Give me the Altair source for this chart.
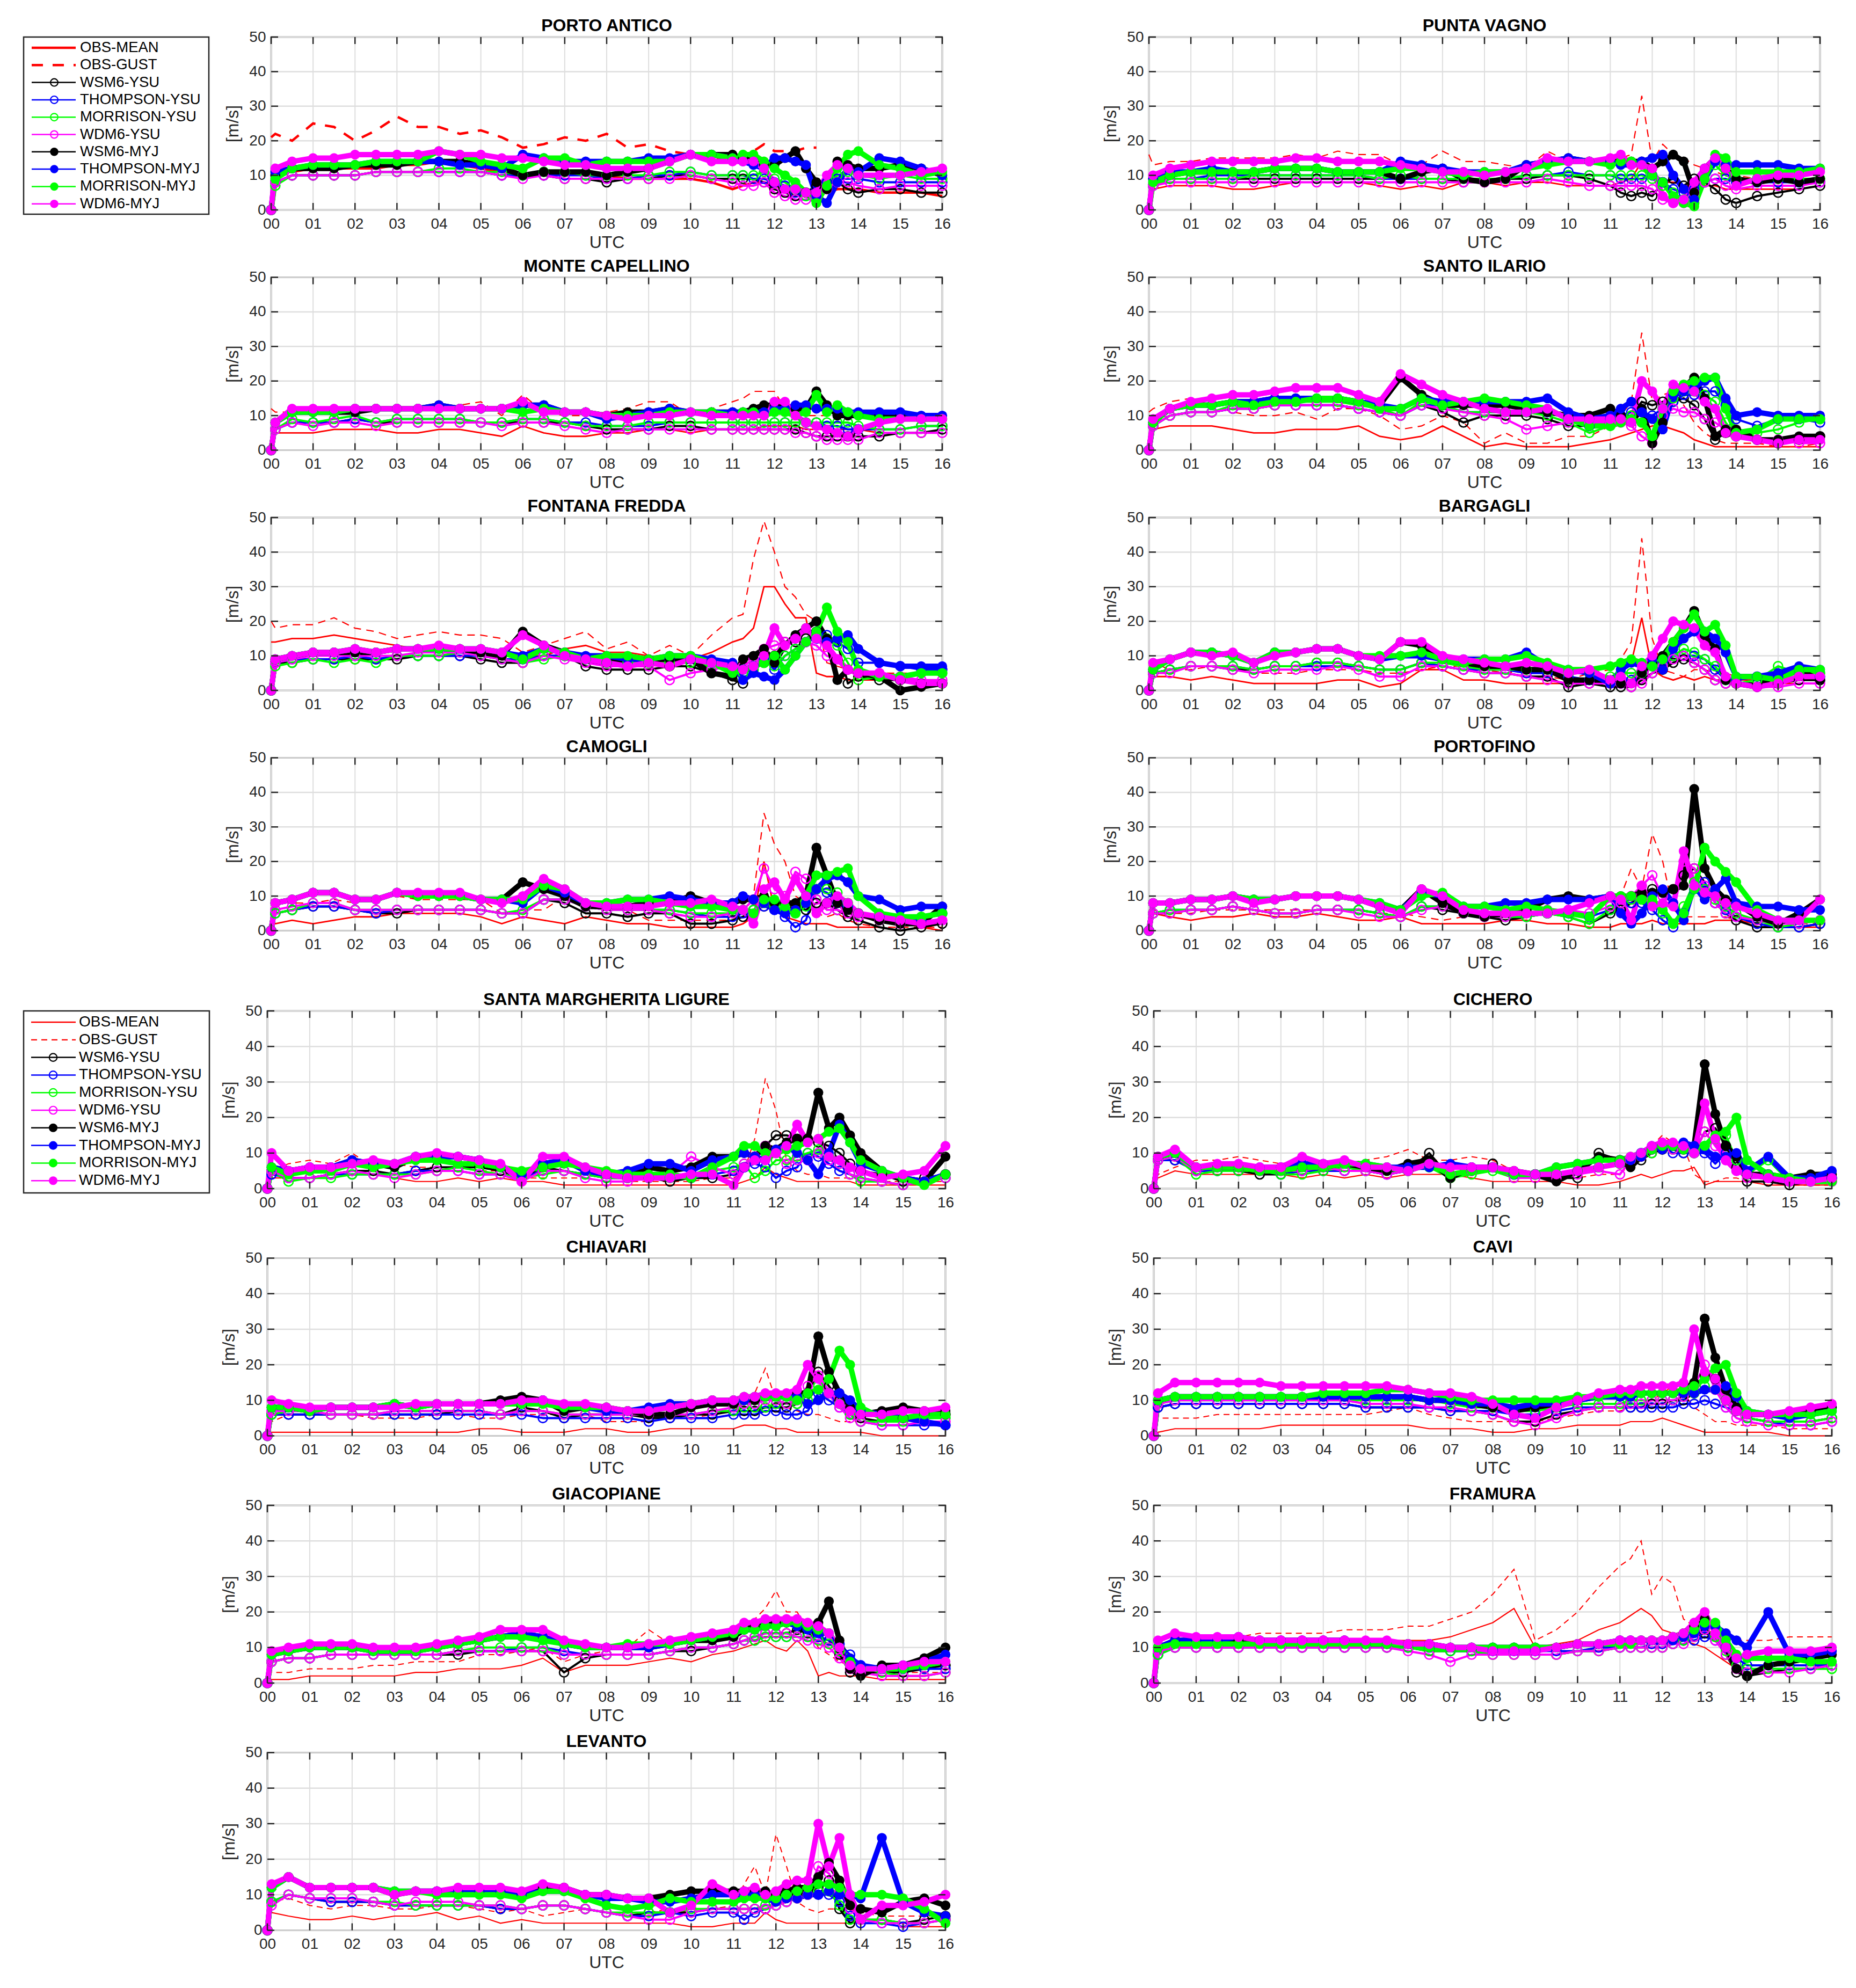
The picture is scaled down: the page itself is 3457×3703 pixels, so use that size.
import altair as alt
import pandas as pd

N = None
FONT = "Liberation Sans"
INK = "#262626"
GRID = "#dedede"
RED = "#ff0000"

TIMES = [0, 0.1,  0.5, 1, 1.5, 2, 2.5, 3, 3.5, 4, 4.5, 5,  5.5, 6, 6.5, 7, 7.5, 8, 8.5, 9, 9.5, 10,  10.5, 11,
         11.25, 11.5, 11.75, 12, 12.25, 12.5, 12.75, 13, 13.25, 13.5, 13.75, 14,  14.5, 15, 15.5, 16]
HOURS = list(range(17))
Y_TICKS = [0, 10, 20, 30, 40, 50]
SERIES = ["OBS-MEAN", "OBS-GUST", "WSM6-YSU", "THOMPSON-YSU", "MORRISON-YSU", "WDM6-YSU",
          "WSM6-MYJ", "THOMPSON-MYJ", "MORRISON-MYJ", "WDM6-MYJ"]
COLORS = ["#ff0000", "#ff0000", "#000000", "#0000ff", "#00ff00", "#ff00ff",
          "#000000", "#0000ff", "#00ff00", "#ff00ff"]

# ---------------- PORTO ANTICO ----------------
PA_OBS_MEAN = [12, 11,  11, 12, 12, 12, 12, 13, 13, 14, 13, 12,  11, 10, 11, 11, 10, 10, 9, 9, 9, 9,  8, 6,  7, 8, 8, 7, 6, 6, 6, 5, 5, 6, 6, 6,  5, 5, 5, 4]
PA_OBS_GUST = [21, 22,  20, 25, 24, 20, 23, 27, 24, 24, 22, 23,  21, 18, 19, 21, 20, 22, 18, 19, 17, 16,  15, 14,  16, 17, 19, 17, 17, 17, 18, 18, N, N, N, N,  N, N, N, N]
PA_WSM6_YSU = [0, 8,  10, 10, 10, 10, 11, 11, 11, 11, 11, 11,  10, 10, 10, 9, 9, 8, 9, 9, 10, 10,  9, 9,  9, 9, 8, 6, 5, 4, 5, 7, 8, 8, 6, 5,  6, 6, 5, 5]
PA_THOMPSON_YSU = [0, 8,  10, 10, 10, 10, 11, 11, 11, 11, 11, 11,  10, 10, 10, 10, 10, 9, 9, 10, 10, 11,  10, 10,  10, 9, 9, 8, 7, 5, 4, 4, 8, 9, 9, 9,  8, 8, 8, 8]
PA_MORRISON_YSU = [0, 7,  10, 10, 10, 10, 11, 11, 11, 12, 12, 11,  11, 10, 11, 11, 10, 10, 10, 10, 11, 11,  10, 10,  10, 10, 11, 9, 8, 6, 4, 3, 6, 10, 11, 10,  9, 10, 9, 9]
PA_WDM6_YSU = [0, 8,  10, 10, 10, 10, 11, 11, 11, 11, 11, 11,  10, 9, 10, 9, 9, 9, 9, 9, 9, 10,  9, 8,  7, 7, 8, 5, 4, 3, 3, 4, 6, 8, 8, 7,  6, 7, 7, 7]
PA_WSM6_MYJ = [0, 10,  12, 12, 12, 13, 13, 13, 14, 14, 14, 13,  12, 10, 11, 11, 11, 10, 11, 12, 14, 16,  16, 16,  15, 14, 13, 13, 15, 17, 12, 8, 6, 14, 13, 12,  12, 13, 12, 10]
PA_THOMPSON_MYJ = [0, 11,  12, 13, 13, 13, 14, 14, 14, 14, 13, 13,  12, 16, 15, 14, 14, 14, 14, 15, 15, 16,  16, 15,  14, 13, 12, 15, 15, 14, 13, 4, 2, 8, 12, 11,  15, 14, 12, 10]
PA_MORRISON_MYJ = [0, 9,  12, 13, 13, 13, 14, 14, 14, 17, 16, 14,  13, 12, 15, 15, 13, 14, 14, 14, 14, 16,  16, 15,  16, 16, 14, 12, 10, 8, 5, 2, 7, 12, 16, 17,  13, 12, 10, 11]
PA_WDM6_MYJ = [0, 12,  14, 15, 15, 16, 16, 16, 16, 17, 16, 16,  15, 15, 14, 13, 13, 12, 12, 12, 14, 16,  14, 14,  14, 14, 12, 8, 6, 6, 5, 5, 10, 13, 12, 10,  10, 10, 11, 12]

# ---------------- PUNTA VAGNO ----------------
PV_OBS_MEAN = [7, 6,  7, 7, 7, 6, 6, 7, 8, 8, 8, 8,  7, 6, 7, 6, 8, 8, 7, 8, 8, 7,  7, 7,  8, 9, 14, 9, 8, 8, 7, 7, 7, 7, 6, 6,  6, 6, 6, 7]
PV_OBS_GUST = [16, 13,  14, 14, 15, 15, 15, 15, 16, 15, 17, 16,  16, 13, 13, 17, 14, 14, 13, 12, 17, 14,  15, 14,  15, 16, 33, 14, 19, 16, 15, 13, 12, 11, 10, 10,  9, 9, 9, 9]
PV_WSM6_YSU = [0, 7,  9, 9, 9, 9, 9, 9, 9, 9, 9, 9,  9, 9, 9, 9, 8, 8, 9, 9, 10, 10,  9, 7,  5, 4, 5, 4, 8, 9, 7, 9, 8, 6, 3, 2,  4, 5, 6, 7]
PV_THOMPSON_YSU = [0, 7,  9, 9, 10, 10, 10, 10, 10, 10, 10, 10,  9, 9, 9, 9, 9, 9, 9, 10, 10, 11,  10, 10,  9, 9, 9, 10, 8, 6, 5, 6, 8, 9, 9, 8,  8, 8, 8, 8]
PV_MORRISON_YSU = [0, 7,  9, 9, 9, 9, 10, 10, 10, 10, 10, 10,  9, 10, 9, 9, 9, 9, 9, 10, 10, 10,  10, 10,  10, 10, 10, 9, 7, 5, 3, 2, 8, 13, 10, 9,  9, 9, 9, 9]
PV_WDM6_YSU = [0, 7,  8, 8, 8, 8, 8, 8, 8, 8, 8, 8,  8, 8, 8, 8, 8, 8, 8, 8, 9, 8,  7, 7,  7, 7, 7, 6, 3, 2, 2, 5, 8, 9, 7, 6,  7, 7, 7, 8]
PV_WSM6_MYJ = [0, 9,  10, 11, 11, 11, 11, 12, 12, 12, 11, 11,  11, 9, 11, 12, 9, 8, 9, 13, 14, 15,  14, 14,  14, 14, 14, 12, 14, 16, 14, 5, 12, 15, 12, 9,  8, 9, 8, 9]
PV_THOMPSON_MYJ = [0, 9,  11, 11, 12, 11, 11, 12, 12, 12, 11, 11,  11, 14, 13, 12, 11, 11, 11, 13, 14, 15,  14, 14,  13, 13, 14, 15, 16, 10, 6, 3, 9, 14, 13, 13,  13, 13, 12, 12]
PV_MORRISON_MYJ = [0, 8,  10, 11, 11, 11, 11, 12, 12, 12, 11, 11,  11, 12, 12, 11, 10, 11, 11, 12, 13, 14,  14, 13,  14, 14, 13, 10, 8, 4, 2, 1, 9, 16, 15, 11,  11, 11, 11, 12]
PV_WDM6_MYJ = [0, 10,  12, 13, 14, 14, 14, 14, 15, 15, 14, 14,  14, 13, 12, 11, 11, 10, 11, 12, 15, 14,  14, 15,  16, 13, 13, 12, 4, 2, 3, 8, 12, 15, 12, 7,  9, 10, 10, 11]

# ---------------- MONTE CAPELLINO ----------------
MC_OBS_MEAN = [5, 5,  5, 5, 6, 6, 6, 5, 5, 6, 6, 5,  4, 7, 5, 4, 4, 5, 5, 6, 6, 5,  6, 6,  6, 6, 7, 7, 7, 7, 6, 6, 6, 6, 6, 6,  5, 5, 5, 5]
MC_OBS_GUST = [12, 11,  11, 11, 12, 12, 12, 12, 12, 12, 13, 14,  10, 16, 11, 10, 10, 11, 12, 14, 14, 10,  12, 14,  15, 17, 17, 17, 12, 11, 10, 10, 10, 10, 10, 10,  10, 10, 10, 10]
MC_WSM6_YSU = [0, 6,  8, 8, 8, 9, 8, 8, 8, 8, 8, 8,  8, 8, 8, 8, 7, 6, 6, 6, 7, 7,  6, 6,  6, 6, 6, 6, 6, 6, 5, 4, 4, 4, 4, 4,  4, 5, 5, 6]
MC_THOMPSON_YSU = [0, 6,  8, 8, 8, 9, 8, 9, 9, 9, 9, 8,  8, 9, 9, 8, 8, 7, 7, 7, 8, 8,  8, 8,  8, 8, 8, 8, 8, 8, 8, 8, 7, 7, 6, 6,  6, 6, 7, 7]
MC_MORRISON_YSU = [0, 6,  9, 8, 9, 10, 8, 9, 9, 9, 9, 8,  8, 9, 9, 8, 7, 7, 7, 8, 8, 8,  8, 8,  8, 8, 8, 8, 8, 8, 8, 8, 8, 8, 8, 7,  6, 6, 7, 7]
MC_WDM6_YSU = [0, 6,  8, 7, 8, 8, 7, 8, 8, 8, 8, 8,  7, 8, 8, 7, 6, 5, 6, 6, 6, 6,  6, 6,  6, 6, 6, 6, 6, 5, 5, 4, 3, 3, 3, 3,  5, 5, 5, 5]
MC_WSM6_MYJ = [0, 8,  11, 11, 11, 11, 12, 12, 12, 13, 12, 12,  12, 13, 13, 11, 11, 10, 11, 11, 12, 11,  11, 11,  11, 12, 13, 13, 12, 12, 12, 17, 13, 10, 10, 10,  10, 10, 9, 9]
MC_THOMPSON_MYJ = [0, 8,  11, 11, 11, 12, 12, 12, 12, 13, 12, 12,  12, 13, 13, 11, 11, 9, 10, 11, 12, 11,  11, 11,  11, 11, 11, 12, 12, 13, 13, 12, 12, 12, 11, 11,  11, 11, 10, 10]
MC_MORRISON_MYJ = [0, 8,  11, 11, 11, 12, 12, 12, 12, 12, 12, 12,  12, 11, 12, 11, 11, 10, 10, 10, 11, 11,  11, 10,  11, 11, 10, 11, 11, 10, 11, 16, 11, 13, 11, 10,  9, 9, 9, 9]
MC_WDM6_MYJ = [0, 8,  12, 12, 12, 12, 12, 12, 12, 12, 12, 12,  12, 14, 11, 11, 11, 10, 9, 10, 10, 11,  10, 10,  10, 10, 10, 14, 14, 10, 8, 7, 6, 5, 4, 6,  8, 9, 9, 9]

# ---------------- SANTO ILARIO ----------------
SI_OBS_MEAN = [7, 6,  7, 7, 7, 6, 5, 5, 6, 6, 6, 7,  4, 3, 4, 7, 4, 1, 2, 1, 1, 1,  2, 3,  4, 5, 6, 7, 7, 6, 5, 3, 2, 1, 1, 1,  1, 1, 1, 1]
SI_OBS_GUST = [11, 12,  14, 15, 13, 11, 10, 10, 11, 9, 12, 12,  10, 6, 7, 10, 8, 2, 5, 2, 2, 4,  4, 7,  10, 14, 34, 14, 16, 17, 13, 8, 5, 3, 2, 2,  2, 1, 1, 2]
SI_WSM6_YSU = [0, 7,  10, 11, 11, 12, 12, 13, 13, 13, 13, 12,  11, 10, 13, 11, 8, 10, 10, 10, 9, 7,  7, 8,  10, 10, 14, 13, 14, 14, 15, 13, 9, 3, 5, 4,  3, 2, 3, 4]
SI_THOMPSON_YSU = [0, 7,  10, 11, 11, 12, 12, 13, 13, 13, 13, 12,  11, 10, 13, 13, 11, 11, 11, 11, 11, 9,  7, 9,  10, 11, 11, 10, 12, 14, 16, 16, 17, 17, 13, 9,  7, 9, 9, 8]
SI_MORRISON_YSU = [0, 7,  10, 11, 11, 13, 12, 13, 14, 14, 14, 13,  12, 10, 14, 13, 11, 11, 11, 11, 10, 8,  5, 7,  9, 10, 8, 4, 12, 15, 17, 17, 16, 14, 8, 4,  5, 6, 8, 9]
SI_WDM6_YSU = [0, 7,  10, 11, 11, 12, 12, 13, 13, 13, 13, 12,  11, 10, 13, 12, 11, 10, 9, 6, 7, 8,  8, 8,  8, 7, 4, 2, 10, 12, 11, 11, 9, 8, 6, 4,  3, 3, 2, 2]
SI_WSM6_MYJ = [0, 8,  12, 13, 13, 14, 14, 15, 15, 15, 15, 14,  13, 21, 16, 13, 13, 13, 13, 12, 11, 10,  10, 12,  10, 8, 12, 2, 8, 16, 18, 21, 15, 4, 6, 6,  3, 3, 4, 4]
SI_THOMPSON_MYJ = [0, 8,  12, 13, 13, 14, 14, 15, 15, 15, 15, 14,  13, 12, 15, 14, 14, 14, 14, 14, 15, 11,  9, 10,  12, 14, 11, 9, 6, 16, 17, 18, 20, 21, 15, 10,  11, 10, 10, 10]
SI_MORRISON_MYJ = [0, 8,  12, 13, 13, 14, 13, 14, 14, 15, 15, 14,  12, 12, 15, 13, 14, 15, 14, 13, 12, 9,  7, 7,  8, 9, 8, 4, 12, 17, 19, 20, 21, 21, 12, 5,  6, 9, 9, 9]
SI_WDM6_MYJ = [0, 9,  12, 14, 15, 16, 16, 17, 18, 18, 18, 16,  14, 22, 19, 16, 14, 12, 11, 11, 12, 9,  9, 9,  9, 8, 20, 17, 12, 19, 18, 17, 14, 12, 5, 4,  3, 2, 3, 3]

# ---------------- FONTANA FREDDA ----------------
FF_OBS_MEAN = [14, 14,  15, 15, 16, 15, 14, 13, 12, 11, 11, 11,  11, 10, 10, 12, 13, 11, 11, 10, 9, 9,  11, 14,  15, 18, 30, 30, 25, 21, 21, 5, 4, 4, 3, 3,  3, 3, 3, 3]
FF_OBS_GUST = [20, 18,  19, 19, 21, 18, 17, 15, 16, 17, 16, 16,  15, 11, 13, 15, 17, 12, 14, 10, 13, 10,  16, 21,  22, 38, 49, 40, 30, 27, 22, 20, 8, 7, 6, 6,  5, 5, 5, 5]
FF_WSM6_YSU = [0, 8,  8, 9, 9, 9, 9, 9, 10, 10, 10, 9,  8, 8, 10, 10, 7, 6, 6, 6, 7, 7,  5, 3,  2, 6, 8, 10, 14, 14, 15, 17, 14, 14, 2, 4,  3, 3, 2, 2]
FF_THOMPSON_YSU = [0, 8,  9, 9, 9, 10, 9, 10, 10, 10, 10, 10,  9, 9, 10, 10, 9, 8, 8, 8, 9, 9,  8, 7,  6, 7, 9, 6, 10, 12, 14, 15, 16, 14, 12, 8,  8, 7, 6, 6]
FF_MORRISON_YSU = [0, 7,  8, 9, 8, 9, 8, 10, 10, 10, 11, 10,  9, 8, 9, 10, 9, 8, 8, 8, 8, 8,  7, 6,  5, 6, 8, 7, 10, 12, 14, 16, 15, 13, 8, 3,  4, 4, 5, 5]
FF_WDM6_YSU = [0, 8,  9, 10, 10, 10, 10, 10, 11, 11, 11, 10,  9, 8, 10, 9, 8, 7, 7, 7, 3, 5,  6, 7,  7, 9, 12, 13, 14, 15, 14, 13, 10, 9, 6, 5,  5, 4, 3, 3]
FF_WSM6_MYJ = [0, 9,  10, 11, 11, 11, 11, 12, 12, 12, 12, 11,  10, 17, 13, 11, 9, 8, 9, 9, 9, 9,  5, 4,  9, 10, 12, 8, 13, 16, 18, 20, 15, 3, 6, 5,  4, 0, 1, 2]
FF_THOMPSON_MYJ = [0, 9,  10, 11, 11, 12, 11, 12, 12, 12, 12, 12,  11, 10, 12, 11, 10, 10, 9, 9, 10, 10,  9, 8,  3, 5, 4, 3, 6, 10, 14, 17, 14, 15, 16, 12,  8, 7, 7, 7]
FF_MORRISON_MYJ = [0, 9,  10, 11, 11, 12, 11, 12, 12, 12, 12, 12,  11, 9, 12, 11, 9, 10, 10, 9, 10, 10,  8, 5,  6, 7, 8, 10, 6, 10, 14, 17, 24, 17, 14, 6,  4, 4, 5, 5]
FF_WDM6_MYJ = [0, 9,  10, 11, 11, 12, 11, 12, 12, 13, 12, 12,  11, 16, 13, 10, 9, 8, 7, 8, 7, 9,  8, 7,  6, 7, 10, 18, 13, 15, 18, 15, 13, 9, 6, 5,  5, 3, 2, 2]

# ---------------- BARGAGLI ----------------
BA_OBS_MEAN = [2, 4,  4, 3, 4, 3, 2, 2, 2, 2, 3, 3,  1, 2, 6, 6, 3, 3, 2, 2, 2, 2,  2, 3,  5, 8, 21, 6, 4, 3, 4, 3, 4, 3, 3, 3,  3, 2, 2, 2]
BA_OBS_GUST = [7, 8,  6, 6, 7, 6, 5, 5, 5, 6, 6, 6,  5, 5, 6, 7, 7, 6, 5, 6, 4, 3,  5, 6,  9, 14, 44, 15, 6, 5, 4, 6, 6, 5, 5, 4,  4, 3, 3, 3]
BA_WSM6_YSU = [0, 5,  6, 7, 7, 6, 6, 7, 7, 8, 8, 7,  6, 6, 8, 7, 6, 5, 5, 4, 4, 1,  2, 1,  1, 1, 3, 5, 6, 8, 9, 8, 6, 3, 2, 2,  2, 2, 3, 3]
BA_THOMPSON_YSU = [0, 5,  6, 7, 7, 7, 6, 7, 7, 7, 7, 7,  6, 6, 8, 7, 6, 6, 6, 5, 5, 4,  3, 2,  2, 3, 5, 7, 8, 10, 10, 10, 9, 6, 3, 3,  4, 4, 5, 4]
BA_MORRISON_YSU = [0, 5,  6, 7, 7, 7, 6, 7, 7, 8, 8, 7,  6, 6, 8, 8, 7, 6, 6, 6, 6, 5,  5, 4,  5, 5, 5, 7, 7, 10, 12, 11, 9, 7, 3, 2,  3, 7, 5, 5]
BA_WDM6_YSU = [0, 5,  5, 7, 7, 6, 5, 6, 6, 6, 7, 6,  4, 4, 7, 7, 6, 5, 5, 4, 3, 2,  2, 2,  2, 1, 2, 5, 7, 9, 10, 8, 6, 3, 2, 2,  1, 1, 2, 2]
BA_WSM6_MYJ = [0, 6,  9, 11, 11, 10, 8, 11, 11, 12, 12, 10,  9, 14, 13, 9, 8, 7, 7, 6, 6, 3,  3, 3,  2, 2, 5, 8, 10, 14, 18, 23, 16, 12, 3, 2,  1, 5, 6, 3]
BA_THOMPSON_MYJ = [0, 6,  9, 11, 11, 10, 8, 11, 11, 12, 12, 10,  9, 10, 10, 9, 9, 9, 9, 11, 7, 6,  5, 2,  6, 8, 7, 9, 6, 12, 15, 17, 17, 15, 11, 4,  4, 5, 7, 6]
BA_MORRISON_MYJ = [0, 6,  9, 11, 11, 10, 8, 11, 11, 12, 12, 10,  10, 10, 11, 9, 8, 9, 9, 10, 8, 6,  6, 7,  8, 9, 8, 7, 9, 14, 18, 22, 17, 19, 13, 4,  4, 3, 6, 6]
BA_WDM6_MYJ = [0, 8,  9, 11, 10, 11, 8, 10, 11, 12, 12, 10,  9, 14, 14, 10, 9, 8, 7, 8, 7, 5,  6, 3,  4, 2, 7, 10, 15, 20, 19, 18, 13, 11, 4, 2,  1, 2, 4, 4]

# ---------------- CAMOGLI ----------------
CA_OBS_MEAN = [2, 2,  3, 2, 3, 4, 4, 5, 5, 5, 5, 4,  2, 4, 3, 2, 4, 3, 2, 2, 1, 1,  1, 1,  2, 4, 20, 6, 4, 3, 2, 2, 2, 1, 1, 1,  1, 0, 1, 0]
CA_OBS_GUST = [9, 8,  8, 8, 9, 8, 10, 10, 9, 9, 9, 9,  5, 6, 6, 10, 8, 7, 6, 3, 3, 3,  3, 3,  5, 10, 34, 25, 20, 10, 8, 5, 4, 5, 3, 2,  1, 1, 1, 1]
CA_WSM6_YSU = [0, 5,  6, 7, 7, 6, 5, 5, 6, 6, 6, 6,  5, 5, 9, 8, 5, 5, 4, 5, 5, 2,  2, 3,  4, 6, 7, 8, 8, 7, 6, 8, 8, 6, 4, 3,  1, 0, 1, 2]
CA_THOMPSON_YSU = [0, 5,  6, 7, 7, 6, 5, 6, 6, 6, 6, 6,  5, 5, 9, 9, 7, 6, 6, 6, 6, 5,  4, 4,  5, 6, 7, 6, 4, 1, 3, 12, 11, 8, 7, 5,  4, 3, 3, 5]
CA_MORRISON_YSU = [0, 5,  6, 8, 8, 6, 6, 6, 6, 6, 6, 6,  5, 6, 9, 9, 7, 6, 6, 6, 6, 5,  5, 5,  6, 6, 8, 7, 6, 5, 7, 12, 12, 11, 8, 5,  3, 3, 4, 5]
CA_WDM6_YSU = [0, 6,  7, 8, 8, 6, 6, 6, 6, 6, 6, 6,  5, 5, 9, 9, 7, 6, 6, 6, 5, 4,  4, 5,  6, 9, 18, 12, 10, 17, 15, 9, 6, 6, 5, 4,  3, 2, 2, 3]
CA_WSM6_MYJ = [0, 8,  9, 11, 11, 9, 9, 11, 10, 10, 10, 9,  9, 14, 12, 10, 7, 7, 7, 8, 8, 10,  8, 8,  9, 9, 10, 8, 8, 8, 10, 24, 16, 8, 6, 5,  3, 2, 2, 7]
CA_THOMPSON_MYJ = [0, 8,  9, 11, 11, 9, 9, 11, 10, 10, 10, 9,  9, 8, 13, 11, 8, 8, 9, 9, 10, 9,  8, 8,  10, 9, 8, 6, 5, 6, 8, 12, 15, 16, 14, 10,  9, 6, 7, 7]
CA_MORRISON_MYJ = [0, 8,  9, 11, 11, 9, 9, 11, 10, 10, 10, 9,  9, 9, 13, 12, 8, 8, 9, 9, 8, 7,  7, 6,  6, 5, 9, 9, 7, 5, 10, 16, 16, 17, 18, 10,  5, 4, 4, 5]
CA_WDM6_MYJ = [0, 8,  9, 11, 11, 9, 9, 11, 11, 11, 11, 9,  8, 10, 15, 12, 8, 7, 7, 7, 8, 8,  9, 7,  6, 2, 12, 14, 9, 15, 10, 5, 8, 10, 8, 5,  4, 3, 2, 3]

# ---------------- PORTOFINO ----------------
PF_OBS_MEAN = [5, 5,  4, 3, 4, 4, 5, 4, 4, 5, 4, 3,  3, 4, 2, 2, 2, 2, 3, 3, 2, 2,  1, 1,  2, 2, 2, 3, 2, 2, 2, 2, 2, 3, 3, 3,  2, 1, 1, 1]
PF_OBS_GUST = [6, 6,  5, 5, 6, 6, 6, 6, 6, 6, 6, 6,  5, 5, 4, 3, 4, 6, 5, 5, 5, 4,  5, 7,  10, 18, 12, 28, 20, 6, 4, 4, 4, 4, 4, 3,  3, 2, 2, 2]
PF_WSM6_YSU = [0, 5,  5, 6, 6, 7, 6, 5, 5, 6, 6, 6,  5, 4, 7, 6, 5, 4, 3, 4, 5, 4,  2, 5,  6, 8, 10, 12, 11, 12, 16, 18, 14, 8, 5, 3,  1, 1, 1, 2]
PF_THOMPSON_YSU = [0, 5,  6, 6, 6, 7, 6, 5, 5, 6, 6, 6,  5, 4, 7, 7, 5, 4, 4, 4, 5, 5,  4, 6,  8, 8, 8, 6, 3, 1, 5, 12, 14, 8, 6, 4,  2, 1, 1, 2]
PF_MORRISON_YSU = [0, 5,  6, 6, 6, 7, 6, 5, 5, 6, 6, 6,  5, 4, 7, 7, 5, 4, 4, 4, 5, 4,  2, 6,  8, 9, 9, 8, 5, 2, 7, 14, 12, 9, 7, 5,  3, 1, 2, 3]
PF_WDM6_YSU = [0, 5,  5, 6, 6, 7, 6, 5, 5, 6, 6, 5,  4, 4, 6, 7, 5, 4, 4, 5, 6, 6,  5, 7,  8, 10, 13, 16, 10, 8, 20, 18, 13, 8, 5, 4,  3, 2, 2, 3]
PF_WSM6_MYJ = [0, 8,  8, 9, 9, 10, 9, 9, 10, 10, 10, 9,  7, 6, 12, 8, 5, 4, 5, 6, 9, 10,  9, 10,  10, 10, 11, 11, 11, 12, 13, 41, 18, 12, 9, 8,  4, 2, 5, 9]
PF_THOMPSON_MYJ = [0, 8,  8, 9, 9, 10, 9, 9, 10, 10, 10, 9,  8, 6, 11, 10, 7, 7, 8, 8, 9, 9,  9, 10,  5, 2, 5, 10, 12, 8, 3, 13, 9, 12, 15, 8,  7, 7, 6, 6]
PF_MORRISON_MYJ = [0, 8,  8, 9, 9, 10, 9, 9, 10, 10, 10, 9,  8, 6, 10, 11, 7, 7, 6, 7, 6, 5,  4, 10,  10, 10, 9, 9, 6, 2, 5, 12, 24, 20, 17, 14,  6, 3, 3, 3]
PF_WDM6_MYJ = [0, 8,  8, 9, 9, 10, 8, 9, 10, 10, 10, 9,  7, 5, 12, 10, 6, 5, 5, 5, 5, 6,  8, 10,  9, 3, 13, 7, 8, 7, 23, 13, 11, 10, 8, 7,  5, 3, 3, 9]

# ---------------- SANTA MARGHERITA LIGURE ----------------
SM_OBS_MEAN = [3, 3,  3, 3, 4, 4, 4, 3, 2, 2, 3, 2,  3, 2, 2, 1, 1, 1, 1, 1, 1, 1,  1, 1,  2, 3, 6, 4, 3, 2, 2, 2, 2, 2, 2, 1,  1, 1, 1, 1]
SM_OBS_GUST = [6, 5,  7, 8, 7, 10, 6, 7, 6, 6, 6, 5,  5, 3, 3, 3, 3, 2, 2, 2, 2, 2,  3, 3,  5, 14, 31, 22, 8, 5, 4, 4, 3, 3, 3, 3,  2, 2, 2, 2]
SM_WSM6_YSU = [0, 5,  3, 3, 4, 5, 5, 4, 5, 6, 6, 6,  5, 3, 6, 5, 4, 3, 3, 3, 2, 3,  3, 4,  6, 9, 12, 15, 15, 14, 14, 13, 12, 10, 7, 5,  4, 2, 3, 4]
SM_THOMPSON_YSU = [0, 4,  3, 3, 4, 4, 4, 4, 5, 5, 5, 4,  4, 3, 5, 5, 4, 3, 3, 3, 3, 3,  4, 5,  6, 7, 6, 3, 5, 6, 10, 9, 7, 5, 4, 3,  2, 1, 2, 3]
SM_MORRISON_YSU = [0, 5,  2, 3, 3, 4, 4, 4, 4, 5, 6, 5,  4, 3, 4, 5, 4, 3, 3, 3, 3, 3,  5, 6,  7, 3, 5, 8, 8, 9, 10, 11, 9, 7, 4, 2,  2, 1, 2, 3]
SM_WDM6_YSU = [0, 5,  3, 3, 4, 5, 4, 3, 4, 5, 5, 4,  4, 2, 5, 5, 3, 2, 2, 3, 4, 9,  6, 4,  7, 9, 12, 10, 7, 8, 8, 10, 8, 7, 4, 3,  2, 1, 2, 3]
SM_WSM6_MYJ = [0, 6,  5, 6, 6, 8, 7, 6, 9, 9, 9, 8,  6, 4, 7, 8, 5, 4, 4, 6, 5, 6,  9, 9,  10, 9, 12, 11, 13, 14, 14, 27, 17, 20, 15, 10,  5, 3, 2, 9]
SM_THOMPSON_MYJ = [0, 6,  5, 6, 6, 8, 7, 7, 9, 9, 9, 8,  6, 4, 7, 8, 5, 4, 5, 7, 7, 5,  8, 9,  10, 9, 8, 11, 12, 10, 8, 4, 10, 18, 13, 7,  5, 3, 2, 4]
SM_MORRISON_MYJ = [0, 6,  4, 5, 5, 7, 6, 7, 8, 8, 7, 7,  6, 5, 6, 7, 6, 5, 4, 4, 4, 3,  6, 9,  12, 12, 10, 10, 11, 12, 13, 14, 16, 17, 13, 8,  5, 3, 1, 4]
SM_WDM6_MYJ = [0, 10,  5, 6, 6, 7, 8, 7, 9, 10, 9, 8,  7, 2, 9, 9, 6, 4, 3, 3, 3, 4,  4, 1,  6, 8, 8, 10, 12, 18, 13, 14, 9, 8, 6, 5,  3, 4, 5, 12]

# ---------------- CICHERO ----------------
CI_OBS_MEAN = [3, 3,  5, 4, 4, 4, 4, 4, 3, 4, 3, 4,  3, 4, 4, 4, 3, 2, 2, 2, 2, 1,  1, 2,  3, 4, 3, 4, 5, 5, 6, 1, 2, 2, 2, 2,  1, 1, 1, 1]
CI_OBS_GUST = [4, 4,  6, 8, 8, 9, 8, 7, 8, 8, 7, 8,  9, 11, 8, 8, 9, 8, 5, 4, 3, 3,  4, 4,  7, 9, 12, 15, 13, 12, 4, 2, 2, 3, 3, 2,  2, 1, 1, 1]
CI_WSM6_YSU = [0, 8,  8, 5, 5, 5, 4, 4, 5, 5, 5, 5,  4, 5, 10, 3, 5, 7, 4, 4, 3, 3,  10, 8,  7, 8, 10, 11, 11, 10, 10, 16, 17, 12, 6, 2,  2, 1, 2, 3]
CI_THOMPSON_YSU = [0, 8,  8, 5, 5, 5, 5, 4, 5, 5, 5, 5,  4, 5, 7, 4, 5, 6, 4, 4, 4, 5,  6, 7,  8, 10, 11, 12, 10, 10, 10, 10, 7, 10, 8, 4,  4, 2, 3, 3]
CI_MORRISON_YSU = [0, 8,  9, 4, 5, 5, 5, 4, 4, 5, 6, 5,  5, 5, 6, 3, 4, 5, 3, 4, 4, 5,  6, 7,  8, 9, 10, 12, 11, 11, 10, 12, 14, 15, 8, 4,  8, 2, 2, 2]
CI_WDM6_YSU = [0, 8,  9, 5, 6, 6, 5, 5, 5, 6, 5, 5,  4, 5, 7, 4, 5, 6, 3, 3, 3, 4,  5, 4,  8, 9, 11, 12, 11, 11, 10, 16, 12, 8, 5, 3,  3, 2, 2, 2]
CI_WSM6_MYJ = [0, 9,  10, 6, 6, 6, 5, 5, 6, 6, 7, 6,  5, 7, 8, 3, 6, 6, 5, 4, 2, 5,  9, 8,  6, 9, 11, 12, 12, 11, 12, 35, 21, 12, 9, 4,  4, 3, 4, 4]
CI_THOMPSON_MYJ = [0, 9,  10, 6, 6, 6, 6, 6, 7, 7, 7, 7,  6, 6, 6, 7, 6, 6, 4, 4, 6, 7,  8, 8,  8, 9, 12, 11, 12, 13, 12, 11, 9, 9, 10, 5,  9, 3, 3, 5]
CI_MORRISON_MYJ = [0, 9,  10, 6, 6, 6, 5, 5, 6, 6, 7, 7,  6, 5, 7, 4, 5, 6, 4, 4, 6, 7,  8, 8,  9, 10, 11, 12, 12, 11, 10, 12, 15, 16, 20, 8,  4, 3, 2, 2]
CI_WDM6_MYJ = [0, 9,  11, 6, 7, 7, 6, 6, 9, 7, 8, 6,  6, 5, 7, 6, 6, 6, 5, 4, 4, 5,  6, 7,  9, 10, 12, 13, 13, 12, 10, 24, 14, 8, 5, 4,  3, 2, 2, 3]

# ---------------- CHIAVARI ----------------
CH_OBS_MEAN = [1, 1,  1, 1, 1, 1, 1, 1, 1, 1, 1, 2,  2, 1, 1, 1, 2, 2, 1, 1, 2, 2,  2, 2,  3, 3, 3, 2, 2, 1, 1, 1, 1, 1, 1, 1,  0, 0, 0, 0]
CH_OBS_GUST = [4, 4,  6, 6, 6, 6, 5, 5, 5, 6, 6, 5,  5, 6, 6, 6, 6, 4, 4, 4, 5, 5,  6, 7,  9, 12, 19, 10, 8, 7, 6, 6, 5, 4, 4, 4,  3, 3, 3, 3]
CH_WSM6_YSU = [0, 6,  6, 6, 6, 6, 6, 6, 6, 6, 7, 7,  6, 8, 7, 5, 6, 6, 6, 5, 5, 6,  6, 7,  7, 7, 8, 8, 8, 9, 12, 18, 14, 10, 6, 5,  4, 5, 6, 6]
CH_THOMPSON_YSU = [0, 6,  6, 6, 6, 6, 6, 6, 6, 6, 6, 6,  6, 6, 5, 5, 5, 5, 5, 4, 5, 5,  5, 6,  6, 6, 7, 7, 6, 6, 7, 12, 10, 8, 6, 4,  3, 3, 3, 3]
CH_MORRISON_YSU = [0, 6,  7, 7, 6, 6, 6, 7, 7, 7, 7, 7,  6, 7, 7, 6, 6, 6, 6, 6, 6, 6,  7, 7,  8, 8, 8, 9, 9, 9, 10, 14, 12, 9, 6, 4,  4, 4, 5, 5]
CH_WDM6_YSU = [0, 7,  7, 7, 6, 6, 6, 7, 7, 7, 7, 7,  6, 7, 7, 6, 6, 6, 6, 6, 6, 6,  7, 8,  9, 9, 10, 10, 9, 10, 14, 17, 12, 8, 5, 4,  3, 3, 4, 4]
CH_WSM6_MYJ = [0, 8,  8, 7, 8, 8, 8, 9, 8, 9, 9, 9,  10, 11, 10, 7, 8, 8, 7, 6, 6, 8,  9, 9,  10, 10, 11, 11, 11, 12, 12, 28, 18, 12, 8, 6,  7, 8, 7, 7]
CH_THOMPSON_MYJ = [0, 8,  8, 7, 8, 8, 8, 9, 8, 9, 9, 9,  9, 9, 10, 8, 8, 7, 7, 8, 9, 9,  10, 10,  10, 11, 11, 11, 11, 11, 9, 10, 12, 12, 10, 7,  6, 5, 4, 3]
CH_MORRISON_MYJ = [0, 8,  8, 7, 8, 8, 8, 9, 8, 9, 9, 9,  9, 9, 9, 8, 8, 8, 7, 7, 8, 9,  10, 10,  11, 11, 11, 11, 11, 10, 12, 13, 16, 24, 20, 8,  5, 5, 6, 6]
CH_WDM6_MYJ = [0, 10,  9, 8, 8, 8, 8, 8, 9, 9, 9, 9,  9, 10, 10, 9, 9, 8, 7, 7, 8, 9,  10, 10,  11, 11, 12, 12, 12, 13, 20, 16, 12, 9, 7, 6,  6, 7, 7, 8]

# ---------------- CAVI ----------------
CV_OBS_MEAN = [1, 1,  2, 2, 2, 2, 2, 3, 3, 3, 3, 3,  3, 3, 2, 2, 2, 1, 1, 2, 2, 3,  3, 3,  4, 4, 4, 5, 4, 3, 2, 1, 1, 1, 1, 1,  1, 0, 0, 0]
CV_OBS_GUST = [4, 5,  5, 5, 6, 6, 6, 6, 6, 6, 6, 6,  7, 8, 6, 5, 4, 4, 4, 4, 5, 6,  7, 7,  8, 9, 10, 12, 14, 12, 8, 6, 4, 4, 3, 3,  3, 2, 2, 2]
CV_WSM6_YSU = [0, 8,  9, 9, 9, 9, 9, 9, 9, 9, 9, 8,  8, 8, 8, 7, 7, 6, 4, 4, 6, 7,  8, 8,  8, 8, 9, 9, 10, 10, 12, 17, 16, 10, 7, 5,  4, 4, 4, 5]
CV_THOMPSON_YSU = [0, 8,  9, 9, 9, 9, 9, 9, 9, 9, 9, 8,  8, 8, 8, 7, 7, 7, 6, 6, 7, 8,  8, 8,  8, 8, 8, 8, 8, 9, 9, 10, 9, 8, 7, 5,  4, 3, 3, 4]
CV_MORRISON_YSU = [0, 9,  10, 10, 10, 10, 10, 10, 10, 10, 10, 10,  10, 10, 10, 9, 8, 8, 7, 7, 8, 9,  9, 9,  10, 10, 10, 10, 10, 11, 12, 14, 13, 10, 7, 5,  4, 4, 4, 5]
CV_WDM6_YSU = [0, 9,  10, 10, 10, 10, 10, 10, 10, 10, 10, 9,  9, 9, 8, 8, 7, 6, 4, 3, 5, 7,  8, 8,  9, 9, 10, 10, 10, 11, 14, 20, 13, 8, 5, 4,  3, 3, 3, 4]
CV_WSM6_MYJ = [0, 10,  11, 11, 11, 11, 11, 11, 11, 11, 11, 11,  11, 11, 10, 10, 9, 8, 7, 8, 9, 10,  11, 11,  11, 12, 12, 12, 12, 13, 15, 33, 22, 13, 8, 6,  6, 6, 7, 8]
CV_THOMPSON_MYJ = [0, 10,  11, 11, 11, 11, 11, 11, 11, 11, 11, 11,  11, 11, 10, 10, 9, 9, 8, 9, 9, 10,  11, 11,  11, 12, 12, 12, 12, 12, 12, 13, 13, 14, 11, 7,  6, 5, 6, 7]
CV_MORRISON_MYJ = [0, 10,  11, 11, 11, 11, 11, 11, 11, 12, 12, 12,  13, 13, 12, 11, 10, 10, 10, 10, 10, 11,  11, 12,  12, 12, 12, 12, 12, 13, 14, 16, 19, 20, 12, 7,  6, 6, 6, 7]
CV_WDM6_MYJ = [0, 12,  15, 15, 15, 15, 15, 14, 14, 14, 14, 14,  14, 13, 12, 12, 11, 9, 6, 5, 8, 10,  12, 13,  13, 14, 14, 14, 14, 15, 30, 18, 16, 10, 7, 6,  6, 7, 8, 9]

# ---------------- GIACOPIANE ----------------
GI_OBS_MEAN = [1, 1,  1, 2, 2, 2, 2, 2, 3, 3, 4, 4,  4, 5, 7, 3, 5, 5, 5, 6, 7, 6,  8, 9,  10, 11, 12, 10, 9, 12, 9, 2, 3, 2, 2, 2,  1, 1, 1, 1]
GI_OBS_GUST = [2, 3,  3, 4, 4, 4, 5, 5, 6, 6, 6, 8,  8, 9, 10, 6, 8, 9, 10, 15, 11, 12,  13, 14,  16, 18, 21, 26, 20, 20, 15, 10, 8, 6, 5, 4,  3, 3, 3, 3]
GI_WSM6_YSU = [0, 6,  7, 7, 8, 8, 8, 8, 8, 8, 8, 9,  9, 9, 9, 3, 7, 8, 8, 8, 9, 9,  10, 11,  12, 13, 14, 14, 14, 15, 14, 13, 12, 8, 3, 3,  3, 3, 4, 5]
GI_THOMPSON_YSU = [0, 6,  7, 7, 8, 8, 8, 8, 8, 8, 9, 9,  9, 10, 10, 9, 8, 8, 8, 8, 9, 10,  10, 11,  12, 12, 13, 13, 13, 13, 13, 13, 12, 11, 8, 5,  4, 4, 4, 4]
GI_MORRISON_YSU = [0, 6,  7, 7, 8, 8, 8, 8, 8, 8, 9, 10,  10, 10, 10, 8, 8, 8, 8, 8, 9, 10,  10, 11,  12, 12, 13, 13, 13, 13, 13, 12, 11, 9, 5, 4,  3, 2, 2, 3]
GI_WDM6_YSU = [0, 6,  7, 7, 8, 8, 8, 8, 8, 8, 9, 9,  9, 9, 9, 8, 8, 8, 8, 8, 9, 10,  10, 11,  12, 13, 14, 14, 14, 13, 12, 11, 10, 7, 4, 3,  2, 2, 2, 3]
GI_WSM6_MYJ = [0, 8,  9, 10, 10, 10, 9, 9, 9, 10, 11, 12,  13, 14, 13, 11, 10, 10, 10, 10, 11, 12,  12, 13,  15, 16, 16, 17, 17, 17, 16, 17, 23, 12, 4, 2,  5, 5, 7, 10]
GI_THOMPSON_MYJ = [0, 8,  9, 10, 10, 10, 9, 9, 9, 10, 11, 12,  13, 14, 13, 11, 10, 10, 10, 10, 11, 12,  13, 14,  15, 15, 16, 16, 17, 16, 15, 14, 14, 10, 7, 5,  4, 5, 6, 8]
GI_MORRISON_MYJ = [0, 8,  9, 10, 10, 10, 9, 9, 9, 10, 11, 12,  13, 13, 12, 11, 10, 10, 11, 11, 11, 12,  13, 14,  15, 15, 16, 16, 17, 17, 16, 15, 14, 10, 6, 4,  4, 4, 5, 6]
GI_WDM6_MYJ = [0, 9,  10, 11, 11, 11, 10, 10, 10, 11, 12, 13,  15, 15, 15, 12, 11, 10, 10, 11, 12, 13,  14, 15,  17, 17, 18, 18, 18, 18, 17, 16, 14, 10, 5, 4,  4, 5, 6, 6]

# ---------------- FRAMURA ----------------
FR_OBS_MEAN = [10, 11,  11, 11, 11, 11, 12, 12, 12, 12, 12, 12,  12, 12, 12, 13, 15, 17, 21, 10, 11, 12,  15, 17,  19, 21, 19, 15, 14, 12, 11, 10, 8, 6, 4, 3,  4, 4, 4, 4]
FR_OBS_GUST = [12, 12,  13, 13, 13, 13, 14, 14, 14, 14, 15, 15,  15, 16, 16, 18, 20, 25, 32, 12, 15, 20,  27, 33,  35, 40, 25, 30, 28, 18, 16, 15, 14, 13, 12, 12,  12, 13, 13, 13]
FR_WSM6_YSU = [0, 8,  10, 10, 10, 10, 10, 10, 10, 10, 10, 10,  10, 10, 9, 9, 9, 8, 8, 8, 8, 9,  9, 10,  10, 10, 10, 10, 11, 12, 13, 14, 13, 8, 3, 2,  3, 4, 4, 5]
FR_THOMPSON_YSU = [0, 8,  10, 10, 10, 10, 10, 10, 10, 10, 10, 10,  10, 10, 10, 9, 9, 9, 9, 9, 9, 9,  10, 10,  10, 10, 11, 11, 11, 12, 12, 13, 12, 10, 7, 5,  5, 5, 5, 5]
FR_MORRISON_YSU = [0, 8,  10, 10, 10, 10, 10, 10, 10, 10, 10, 10,  10, 10, 9, 9, 9, 8, 8, 8, 8, 9,  9, 10,  10, 10, 10, 10, 11, 12, 13, 15, 13, 9, 5, 4,  4, 4, 4, 4]
FR_WDM6_YSU = [0, 9,  10, 10, 10, 10, 10, 10, 10, 10, 10, 10,  10, 9, 8, 6, 8, 8, 8, 8, 8, 9,  9, 10,  10, 10, 10, 10, 11, 11, 13, 15, 12, 8, 4, 3,  3, 3, 4, 5]
FR_WSM6_MYJ = [0, 10,  12, 12, 12, 12, 12, 12, 12, 12, 12, 11,  11, 11, 11, 10, 10, 10, 10, 10, 10, 11,  11, 12,  12, 12, 12, 12, 13, 14, 16, 18, 16, 10, 4, 2,  5, 6, 7, 8]
FR_THOMPSON_MYJ = [0, 10,  12, 12, 12, 13, 12, 12, 12, 12, 12, 11,  11, 11, 11, 10, 10, 10, 10, 10, 10, 11,  11, 12,  12, 12, 12, 12, 12, 13, 14, 16, 16, 14, 12, 10,  20, 8, 8, 9]
FR_MORRISON_MYJ = [0, 10,  11, 11, 11, 11, 11, 11, 11, 11, 11, 11,  11, 11, 10, 10, 10, 10, 10, 10, 10, 11,  11, 11,  11, 12, 12, 12, 13, 14, 15, 17, 17, 12, 8, 7,  7, 7, 6, 6]
FR_WDM6_MYJ = [0, 12,  14, 13, 13, 13, 12, 12, 12, 12, 12, 12,  12, 11, 11, 10, 10, 9, 9, 9, 10, 11,  11, 12,  12, 12, 12, 12, 13, 14, 17, 20, 14, 10, 7, 8,  9, 9, 9, 10]

# ---------------- LEVANTO ----------------
LV_OBS_MEAN = [5, 5,  4, 3, 3, 4, 3, 4, 4, 5, 3, 4,  2, 3, 2, 2, 2, 2, 2, 2, 2, 1,  1, 2,  2, 2, 5, 3, 2, 2, 2, 2, 2, 2, 2, 2,  2, 1, 1, 1]
LV_OBS_GUST = [8, 8,  9, 7, 6, 7, 7, 6, 6, 7, 7, 6,  5, 6, 4, 5, 6, 5, 5, 5, 6, 5,  6, 7,  13, 18, 10, 27, 18, 8, 6, 5, 6, 6, 6, 5,  4, 4, 4, 4]
LV_WSM6_YSU = [0, 8,  10, 9, 8, 8, 8, 7, 7, 7, 7, 7,  6, 6, 7, 7, 6, 5, 4, 5, 5, 5,  6, 6,  6, 6, 6, 7, 8, 10, 11, 12, 14, 6, 2, 3,  3, 2, 3, 4]
LV_THOMPSON_YSU = [0, 8,  10, 9, 8, 8, 8, 7, 7, 7, 7, 7,  6, 6, 7, 7, 6, 5, 4, 4, 5, 4,  5, 5,  3, 5, 6, 7, 8, 9, 10, 10, 10, 8, 4, 2,  2, 1, 2, 3]
LV_MORRISON_YSU = [0, 8,  10, 9, 9, 9, 8, 8, 7, 7, 7, 7,  7, 6, 7, 7, 6, 5, 5, 5, 5, 6,  6, 6,  6, 6, 7, 7, 8, 9, 10, 11, 11, 7, 3, 3,  3, 2, 2, 3]
LV_WDM6_YSU = [0, 7,  10, 9, 9, 9, 8, 7, 8, 8, 8, 7,  7, 6, 7, 7, 6, 5, 4, 3, 3, 5,  6, 6,  6, 6, 6, 7, 8, 9, 10, 18, 16, 11, 6, 3,  2, 2, 2, 3]
LV_WSM6_MYJ = [0, 12,  15, 12, 12, 12, 12, 10, 11, 11, 11, 11,  11, 10, 12, 12, 10, 10, 9, 9, 10, 11,  11, 11,  11, 11, 11, 10, 11, 12, 12, 15, 19, 14, 7, 6,  5, 8, 9, 7]
LV_THOMPSON_MYJ = [0, 12,  15, 12, 12, 12, 12, 11, 11, 11, 11, 11,  11, 10, 11, 11, 10, 9, 9, 8, 8, 9,  10, 10,  10, 10, 9, 8, 9, 9, 10, 10, 11, 10, 10, 9,  26, 8, 5, 4]
LV_MORRISON_MYJ = [0, 12,  15, 12, 12, 12, 12, 11, 11, 10, 10, 10,  10, 9, 11, 11, 9, 7, 6, 7, 9, 8,  8, 8,  9, 9, 9, 9, 10, 11, 12, 13, 13, 12, 10, 10,  10, 9, 6, 2]
LV_WDM6_MYJ = [0, 13,  15, 12, 12, 12, 12, 10, 11, 11, 12, 12,  12, 11, 13, 12, 10, 10, 9, 9, 5, 7,  13, 10,  11, 12, 10, 11, 13, 14, 14, 30, 18, 26, 10, 3,  7, 7, 8, 10]

STATIONS = {
    "PORTO ANTICO": [PA_OBS_MEAN, PA_OBS_GUST, PA_WSM6_YSU, PA_THOMPSON_YSU, PA_MORRISON_YSU, PA_WDM6_YSU, PA_WSM6_MYJ, PA_THOMPSON_MYJ, PA_MORRISON_MYJ, PA_WDM6_MYJ],
    "PUNTA VAGNO": [PV_OBS_MEAN, PV_OBS_GUST, PV_WSM6_YSU, PV_THOMPSON_YSU, PV_MORRISON_YSU, PV_WDM6_YSU, PV_WSM6_MYJ, PV_THOMPSON_MYJ, PV_MORRISON_MYJ, PV_WDM6_MYJ],
    "MONTE CAPELLINO": [MC_OBS_MEAN, MC_OBS_GUST, MC_WSM6_YSU, MC_THOMPSON_YSU, MC_MORRISON_YSU, MC_WDM6_YSU, MC_WSM6_MYJ, MC_THOMPSON_MYJ, MC_MORRISON_MYJ, MC_WDM6_MYJ],
    "SANTO ILARIO": [SI_OBS_MEAN, SI_OBS_GUST, SI_WSM6_YSU, SI_THOMPSON_YSU, SI_MORRISON_YSU, SI_WDM6_YSU, SI_WSM6_MYJ, SI_THOMPSON_MYJ, SI_MORRISON_MYJ, SI_WDM6_MYJ],
    "FONTANA FREDDA": [FF_OBS_MEAN, FF_OBS_GUST, FF_WSM6_YSU, FF_THOMPSON_YSU, FF_MORRISON_YSU, FF_WDM6_YSU, FF_WSM6_MYJ, FF_THOMPSON_MYJ, FF_MORRISON_MYJ, FF_WDM6_MYJ],
    "BARGAGLI": [BA_OBS_MEAN, BA_OBS_GUST, BA_WSM6_YSU, BA_THOMPSON_YSU, BA_MORRISON_YSU, BA_WDM6_YSU, BA_WSM6_MYJ, BA_THOMPSON_MYJ, BA_MORRISON_MYJ, BA_WDM6_MYJ],
    "CAMOGLI": [CA_OBS_MEAN, CA_OBS_GUST, CA_WSM6_YSU, CA_THOMPSON_YSU, CA_MORRISON_YSU, CA_WDM6_YSU, CA_WSM6_MYJ, CA_THOMPSON_MYJ, CA_MORRISON_MYJ, CA_WDM6_MYJ],
    "PORTOFINO": [PF_OBS_MEAN, PF_OBS_GUST, PF_WSM6_YSU, PF_THOMPSON_YSU, PF_MORRISON_YSU, PF_WDM6_YSU, PF_WSM6_MYJ, PF_THOMPSON_MYJ, PF_MORRISON_MYJ, PF_WDM6_MYJ],
    "SANTA MARGHERITA LIGURE": [SM_OBS_MEAN, SM_OBS_GUST, SM_WSM6_YSU, SM_THOMPSON_YSU, SM_MORRISON_YSU, SM_WDM6_YSU, SM_WSM6_MYJ, SM_THOMPSON_MYJ, SM_MORRISON_MYJ, SM_WDM6_MYJ],
    "CICHERO": [CI_OBS_MEAN, CI_OBS_GUST, CI_WSM6_YSU, CI_THOMPSON_YSU, CI_MORRISON_YSU, CI_WDM6_YSU, CI_WSM6_MYJ, CI_THOMPSON_MYJ, CI_MORRISON_MYJ, CI_WDM6_MYJ],
    "CHIAVARI": [CH_OBS_MEAN, CH_OBS_GUST, CH_WSM6_YSU, CH_THOMPSON_YSU, CH_MORRISON_YSU, CH_WDM6_YSU, CH_WSM6_MYJ, CH_THOMPSON_MYJ, CH_MORRISON_MYJ, CH_WDM6_MYJ],
    "CAVI": [CV_OBS_MEAN, CV_OBS_GUST, CV_WSM6_YSU, CV_THOMPSON_YSU, CV_MORRISON_YSU, CV_WDM6_YSU, CV_WSM6_MYJ, CV_THOMPSON_MYJ, CV_MORRISON_MYJ, CV_WDM6_MYJ],
    "GIACOPIANE": [GI_OBS_MEAN, GI_OBS_GUST, GI_WSM6_YSU, GI_THOMPSON_YSU, GI_MORRISON_YSU, GI_WDM6_YSU, GI_WSM6_MYJ, GI_THOMPSON_MYJ, GI_MORRISON_MYJ, GI_WDM6_MYJ],
    "FRAMURA": [FR_OBS_MEAN, FR_OBS_GUST, FR_WSM6_YSU, FR_THOMPSON_YSU, FR_MORRISON_YSU, FR_WDM6_YSU, FR_WSM6_MYJ, FR_THOMPSON_MYJ, FR_MORRISON_MYJ, FR_WDM6_MYJ],
    "LEVANTO": [LV_OBS_MEAN, LV_OBS_GUST, LV_WSM6_YSU, LV_THOMPSON_YSU, LV_MORRISON_YSU, LV_WDM6_YSU, LV_WSM6_MYJ, LV_THOMPSON_MYJ, LV_MORRISON_MYJ, LV_WDM6_MYJ],
}

LABEL_EXPR = "datum.value < 10 ? '0' + datum.value : '' + datum.value"
HOUR_DF = pd.DataFrame({"h": HOURS})
YT_DF = pd.DataFrame({"g": Y_TICKS})
COLOR = alt.Color("s:N", scale=alt.Scale(domain=SERIES, range=COLORS), legend=None)


def series_frame(lists):
    recs = []
    n = len(TIMES)
    for k, (name, vals) in enumerate(zip(SERIES, lists)):
        vals = (list(vals) + [None] * n)[:n]
        for t, v in zip(TIMES, vals):
            if v is not None:
                recs.append({"t": t, "v": v, "s": name, "k": k})
    return pd.DataFrame(recs)


def panel(title, W, H, obs_w, gust_w, dash):
    df = series_frame(STATIONS[title])
    xsc = alt.Scale(domain=[0, 16], nice=False, zero=False)
    ysc = alt.Scale(domain=[0, 50], nice=False, zero=False)
    xax = alt.Axis(values=HOURS, title="UTC", labelExpr=LABEL_EXPR)
    yax = alt.Axis(values=Y_TICKS, title="[m/s]")
    XT = alt.X("t:Q", scale=xsc, axis=xax)
    YV = alt.Y("v:Q", scale=ysc, axis=yax)
    XH = alt.X("h:Q", scale=xsc, axis=xax)
    YG = alt.Y("g:Q", scale=ysc, axis=yax)
    base = alt.Chart(df)
    hrs = alt.Chart(HOUR_DF)
    ytk = alt.Chart(YT_DF)
    tk = dict(color=INK, strokeWidth=2.5)
    layers = [
        hrs.mark_rule(color=GRID, strokeWidth=2).encode(x=XH),
        ytk.mark_rule(color=GRID, strokeWidth=2.5).encode(y=YG),
        base.transform_filter("datum.k == 0").mark_line(color=RED, strokeWidth=obs_w).encode(x=XT, y=YV),
        base.transform_filter("datum.k == 1").mark_line(color=RED, strokeWidth=gust_w, strokeDash=dash).encode(x=XT, y=YV),
        base.transform_filter("datum.k >= 2 && datum.k <= 5").mark_line(strokeWidth=4, strokeJoin="round", strokeCap="round").encode(x=XT, y=YV, color=COLOR, detail="s:N"),
        base.transform_filter("datum.k >= 6").mark_line(strokeWidth=10, strokeJoin="round", strokeCap="round").encode(x=XT, y=YV, color=COLOR, detail="s:N"),
        base.transform_filter("datum.k >= 2 && datum.k <= 5").mark_point(filled=False, size=290, strokeWidth=2.6, opacity=1).encode(x=XT, y=YV, color=COLOR),
        base.transform_filter("datum.k >= 6").mark_circle(size=340, opacity=1).encode(x=XT, y=YV, color=COLOR),
        hrs.mark_rule(**tk).encode(x=XH, y=alt.value(H), y2=alt.value(H - 13)),
        hrs.mark_rule(**tk).encode(x=XH, y=alt.value(0), y2=alt.value(13)),
        ytk.mark_rule(**tk).encode(y=YG, x=alt.value(0), x2=alt.value(13)),
        ytk.mark_rule(**tk).encode(y=YG, x=alt.value(W), x2=alt.value(W - 13)),
    ]
    return alt.layer(*layers).properties(width=W, height=H, title=title)


def legend_box(W, H, top, step, xl0, xl1, xm, xt, obs_w, gust_w, dash, fsize, osize, fsz):
    ldf = pd.DataFrame({"s": SERIES, "k": list(range(len(SERIES)))})
    ysc = alt.Scale(domain=[-top / step, (H - top) / step], reverse=True, nice=False, zero=False)
    Y = alt.Y("k:Q", scale=ysc, axis=None)
    b = alt.Chart(ldf)
    layers = [
        b.transform_filter("datum.k == 0").mark_rule(color=RED, strokeWidth=obs_w).encode(y=Y, x=alt.value(xl0), x2=alt.value(xl1)),
        b.transform_filter("datum.k == 1").mark_rule(color=RED, strokeWidth=gust_w, strokeDash=dash).encode(y=Y, x=alt.value(xl0), x2=alt.value(xl1)),
        b.transform_filter("datum.k >= 2").mark_rule(strokeWidth=2.5).encode(y=Y, x=alt.value(xl0), x2=alt.value(xl1), color=COLOR),
        b.transform_filter("datum.k >= 2 && datum.k <= 5").mark_point(filled=False, size=osize, strokeWidth=2.2, opacity=1).encode(y=Y, x=alt.value(xm), color=COLOR),
        b.transform_filter("datum.k >= 6").mark_circle(size=fsz, opacity=1).encode(y=Y, x=alt.value(xm), color=COLOR),
        b.mark_text(align="left", baseline="middle", font=FONT, fontSize=fsize, color="black").encode(y=Y, x=alt.value(xt), text="s:N"),
    ]
    return alt.layer(*layers).properties(width=W, height=H, view=alt.ViewBackground(stroke=INK, strokeWidth=2.5, fill="white"))


def spacer(W, H):
    return alt.Chart(pd.DataFrame({"a": [0]})).mark_point(opacity=0).encode(
        x=alt.value(0), y=alt.value(0)
    ).properties(width=W, height=H, view=alt.ViewBackground(stroke="transparent", fill="white"))


# ---- top group geometry ----
TW, TH, TS, TMID, TLW = 1250, 322, 116, 153, 345
# ---- bottom group geometry ----
BW, BH, BS, BMID, BLW = 1263, 331, 108, 172, 346

thin_top = (2.8, 2.2, [14, 10])
thin_bot = (2.2, 2.0, [11, 8])

legend_top = legend_box(TLW, 330, 20, 32.3, 15, 97, 57, 105, 4.5, 4.5, [21, 18], 27.5, 190, 240)
legend_bot = legend_box(BLW, 339, 21, 32.8, 14, 97, 55, 103, 2.5, 2.2, [11, 8], 28, 210, 260)

top_rows = [
    alt.hconcat(legend_top, panel("PORTO ANTICO", TW, TH, 4.5, 4.5, [21, 18]), spacer(TMID, TH),
                panel("PUNTA VAGNO", TW, TH, *thin_top), spacing=TS, bounds="flush"),
    alt.hconcat(spacer(TLW, TH), panel("MONTE CAPELLINO", TW, TH, *thin_top), spacer(TMID, TH),
                panel("SANTO ILARIO", TW, TH, *thin_top), spacing=TS, bounds="flush"),
    alt.hconcat(spacer(TLW, TH), panel("FONTANA FREDDA", TW, TH, *thin_top), spacer(TMID, TH),
                panel("BARGAGLI", TW, TH, *thin_top), spacing=TS, bounds="flush"),
    alt.hconcat(spacer(TLW, TH), panel("CAMOGLI", TW, TH, *thin_top), spacer(TMID, TH),
                panel("PORTOFINO", TW, TH, *thin_top), spacing=TS, bounds="flush"),
]
bot_rows = [
    alt.hconcat(legend_bot, panel("SANTA MARGHERITA LIGURE", BW, BH, *thin_bot), spacer(BMID, BH),
                panel("CICHERO", BW, BH, *thin_bot), spacing=BS, bounds="flush"),
    alt.hconcat(spacer(BLW, BH), panel("CHIAVARI", BW, BH, *thin_bot), spacer(BMID, BH),
                panel("CAVI", BW, BH, *thin_bot), spacing=BS, bounds="flush"),
    alt.hconcat(spacer(BLW, BH), panel("GIACOPIANE", BW, BH, *thin_bot), spacer(BMID, BH),
                panel("FRAMURA", BW, BH, *thin_bot), spacing=BS, bounds="flush"),
    alt.hconcat(spacer(BLW, BH), panel("LEVANTO", BW, BH, *thin_bot), spacing=BS, bounds="flush"),
]

top_group = alt.vconcat(*top_rows, spacing=8.5)
bot_group = alt.vconcat(*bot_rows, spacing=12.5)

chart = alt.vconcat(top_group, bot_group, spacing=33).properties(
    padding={"left": 32, "top": 22, "right": 10, "bottom": 10}
).configure(
    background="white"
).configure_view(
    stroke=INK, strokeWidth=2.5
).configure_axis(
    labelFont=FONT, titleFont=FONT, labelColor=INK, titleColor=INK,
    labelFontSize=28, titleFontSize=32, titleFontWeight="normal",
    grid=False, ticks=False, domain=False, labelFlush=False, labelOverlap=False
).configure_axisX(
    labelPadding=12, titlePadding=5
).configure_axisY(
    labelPadding=10, titlePadding=13
).configure_title(
    font=FONT, fontSize=32, fontWeight="bold", color="black", offset=-10, anchor="middle", frame="group"
)

chart.save("out.html", embed_options={"renderer": "svg", "actions": False})
